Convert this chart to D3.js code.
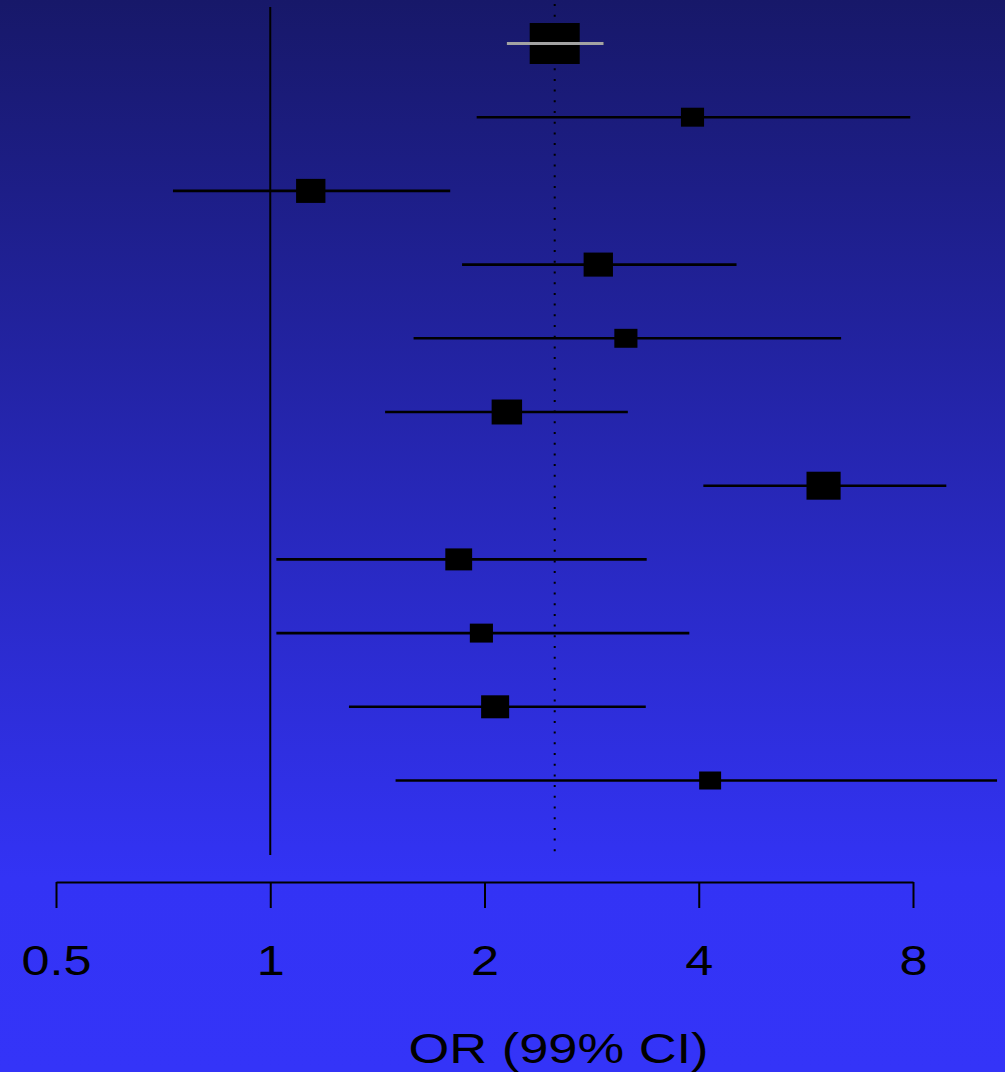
<!DOCTYPE html>
<html>
<head>
<meta charset="utf-8">
<script src="https://cdn.jsdelivr.net/npm/d3@7"></script>
<style>
    html, body { margin: 0; padding: 0; background: #2626c0; }
    svg { display: block; }
    text { font-family: "Liberation Sans", Arial, sans-serif; fill: #000; }
</style>
</head>
<body>
<div id="chart"></div>
<script>
//----- DATA ---------------------------------------//
var studies = ['Pooled', 'S1', 'S2', 'S3', 'S4', 'S5', 'S6', 'S7', 'S8', 'S9', 'S10'];
var oddsRatio = [2.51, 3.92, 1.14, 2.89, 3.16, 2.15, 5.99, 1.84, 1.98, 2.07, 4.15];
var lowerCI   = [2.15, 1.95, 0.73, 1.86, 1.59, 1.45, 4.06, 1.02, 1.02, 1.29, 1.50];
var upperCI   = [2.94, 7.93, 1.79, 4.52, 6.34, 3.18, 8.91, 3.38, 3.88, 3.37, 10.5];
var weights   = [null, 7.2, 11.6, 11.6, 7.2, 12.5, 15.7, 9.7, 7.2, 10.6, 6.5];
var tickValues = [0.5, 1, 2, 4, 8];
var axisTitle = 'OR (99% CI)';

(function (d3) {
    'use strict';

    //----- SETTINGS -----------------------------------//
    var WIDTH = 1005,
        HEIGHT = 1072,
        STRETCH = 1.22,            // picture is wider than tall
        ROW_TOP = 43.5,
        ROW_BOTTOM = 780.5,
        AXIS_Y = 882,
        REF_TOP = 7,
        REF_BOTTOM = 855,
        SUMMARY_BOX = 41;

    var svg = d3.select('#chart').append('svg')
        .attr('width', WIDTH)
        .attr('height', HEIGHT);

    //----- BACKGROUND GRADIENT ------------------------//
    var grad = svg.append('defs').append('linearGradient')
        .attr('id', 'bg')
        .attr('x1', 0).attr('y1', 0).attr('x2', 0).attr('y2', 1);
    grad.append('stop').attr('offset', '0%').attr('stop-color', '#171869');
    grad.append('stop').attr('offset', '82%').attr('stop-color', '#3333f5');
    grad.append('stop').attr('offset', '100%').attr('stop-color', '#3434f8');

    svg.append('rect')
        .attr('width', WIDTH)
        .attr('height', HEIGHT)
        .attr('fill', 'url(#bg)');

    //----- SCALES -------------------------------------//
    var x = d3.scaleLog()
        .base(2)
        .domain([0.5, 8])
        .range([56, 913]);

    var y = d3.scalePoint()
        .domain(d3.range(studies.length))
        .range([ROW_TOP, ROW_BOTTOM]);

    var box = d3.scaleSqrt()
        .domain([0, 100])
        .range([0, 70.6]);

    //----- REFERENCE LINES ----------------------------//
    svg.append('line')
        .attr('x1', x(1)).attr('x2', x(1))
        .attr('y1', REF_TOP).attr('y2', REF_BOTTOM)
        .attr('stroke', '#000')
        .attr('stroke-width', 2);

    svg.append('line')
        .attr('x1', x(oddsRatio[0])).attr('x2', x(oddsRatio[0]))
        .attr('y1', 4).attr('y2', REF_BOTTOM)
        .attr('stroke', '#000')
        .attr('stroke-width', 2)
        .attr('stroke-dasharray', '2,8.7');

    //----- ROWS ---------------------------------------//
    var rows = svg.selectAll('g.row')
        .data(d3.range(studies.length)).enter()
        .append('g')
            .attr('class', 'row');

    rows.append('line')
        .attr('x1', function (i) { return x(lowerCI[i]); })
        .attr('x2', function (i) { return x(Math.min(upperCI[i], 10.5)); })
        .attr('y1', function (i) { return y(i); })
        .attr('y2', function (i) { return y(i); })
        .attr('stroke', '#000')
        .attr('stroke-width', 2.6);

    rows.append('rect')
        .attr('width', function (i) { return getBoxSize(i) * STRETCH; })
        .attr('height', getBoxSize)
        .attr('x', function (i) { return x(oddsRatio[i]) - getBoxSize(i) * STRETCH / 2; })
        .attr('y', function (i) { return y(i) - getBoxSize(i) / 2; })
        .attr('fill', '#000');

    // pooled estimate line is drawn grey over its box
    svg.append('line')
        .attr('x1', x(lowerCI[0])).attr('x2', x(upperCI[0]))
        .attr('y1', y(0)).attr('y2', y(0))
        .attr('stroke', '#a3a3a3')
        .attr('stroke-width', 3);

    //----- AXIS ---------------------------------------//
    var axis = svg.append('g')
        .attr('transform', 'translate(0,' + AXIS_Y + ')')
        .call(d3.axisBottom(x)
            .tickValues(tickValues)
            .tickFormat(d3.format('~g'))
            .tickSizeInner(26)
            .tickSizeOuter(0));

    axis.select('.domain')
        .attr('stroke', '#000')
        .attr('stroke-width', 2);
    axis.selectAll('.tick line')
        .attr('stroke', '#000')
        .attr('stroke-width', 2);
    axis.selectAll('.tick text')
        .attr('y', 93)
        .attr('dy', 0)
        .attr('font-size', 42)
        .attr('fill', '#000')
        .attr('transform', 'scale(1.2,1)')
        .attr('font-family', '"Liberation Sans", Arial, sans-serif');

    //----- AXIS TITLE ---------------------------------//
    svg.append('text')
        .attr('transform', 'translate(558.5,1063) scale(1.22,1)')
        .attr('text-anchor', 'middle')
        .attr('font-size', 43)
        .text(axisTitle);

    //----- HELPERS ------------------------------------//
    function getBoxSize(i) {
        return weights[i] == null ? SUMMARY_BOX : box(weights[i]);
    }

})(d3);
</script>
</body>
</html>
